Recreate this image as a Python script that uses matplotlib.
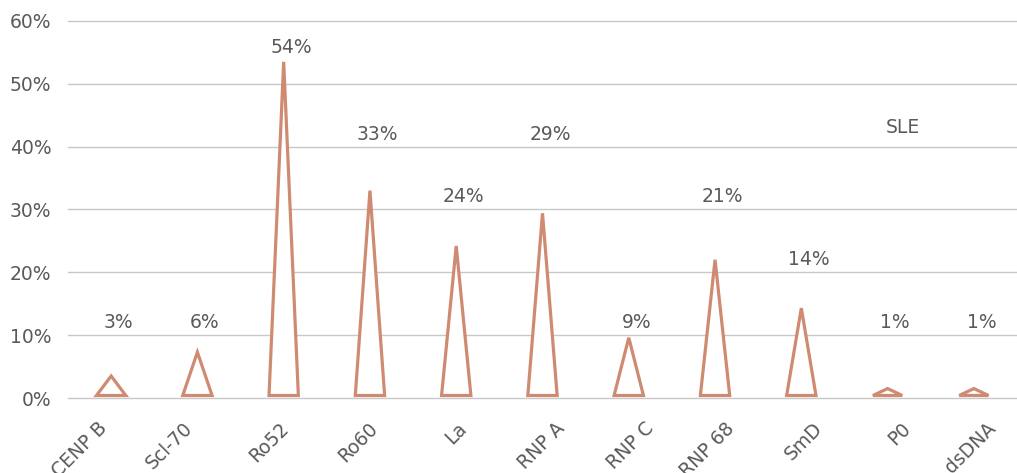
import matplotlib
matplotlib.use("Agg")
import matplotlib.pyplot as plt
from matplotlib.patches import Polygon
from matplotlib.transforms import ScaledTranslation

categories = ["CENP B", "Scl-70", "Ro52", "Ro60", "La", "RNP A", "RNP C", "RNP 68", "SmD", "P0", "dsDNA"]
values = [3.5, 7.3, 53.5, 33, 24.2, 29.4, 9.6, 22, 14.3, 1.5, 1.5]
value_labels = ["3%", "6%", "54%", "33%", "24%", "29%", "9%", "21%", "14%", "1%", "1%"]
label_levels = [12, 12, 55.8, 42, 32, 42, 12, 32, 22, 12, 12]
yticks = [0, 10, 20, 30, 40, 50, 60]
series_name = "SLE"

# layout: horizontal nudge (pixels) of each rotated category label
label_dx = [-3, -4, 6, 9, 12, 24, 26, 21, 22, 24, 23]

color = "#CF8A72"
text_color = "#5A5A5A"
fs = 13.5
plt.rcParams['font.family'] = ['DejaVu Sans']

fig = plt.figure(figsize=(10.17, 4.73), dpi=100)
ax = fig.add_axes([68/1017, (473-398)/473, 1 - 68/1017, (398-21)/473])
ax.set_xlim(-0.5, len(categories) - 0.5)
ax.set_ylim(0, 60)

half = 0.17
for i, v in enumerate(values):
    tri = Polygon([[i - half, 0.4], [i, v], [i + half, 0.4]], closed=True,
                  facecolor="white", edgecolor=color, linewidth=2.3, joinstyle="miter", zorder=3)
    ax.add_patch(tri)
    ax.annotate(value_labels[i], xy=(i, label_levels[i]), xytext=(5.5, 0),
                textcoords="offset points", ha="center", va="center",
                fontsize=fs, color=text_color, zorder=4)

ax.text(9.18, 43, series_name, ha="center", va="center", fontsize=fs, color=text_color)

ax.set_yticks(yticks)
ax.set_yticklabels([f"{t}%" for t in yticks], fontsize=fs, color=text_color)
ax.set_xticks(range(len(categories)))
ax.set_xticklabels(categories, rotation=45, ha="right", rotation_mode="anchor",
                   fontsize=fs, color=text_color)
ax.tick_params(axis="both", length=0)
ax.tick_params(axis="y", pad=12)
ax.tick_params(axis="x", pad=12)
for lab, dx in zip(ax.get_xticklabels(), label_dx):
    offset = ScaledTranslation((dx - 11) / 100, -4 / 100, fig.dpi_scale_trans)
    lab.set_transform(lab.get_transform() + offset)
ax.yaxis.grid(True, color="#C8C8C8", linewidth=1.0)
for gl in ax.get_ygridlines():
    gl.set_clip_on(False)
ax.set_axisbelow(True)
for s in ax.spines.values():
    s.set_visible(False)

fig.savefig("out.png", dpi=100)
